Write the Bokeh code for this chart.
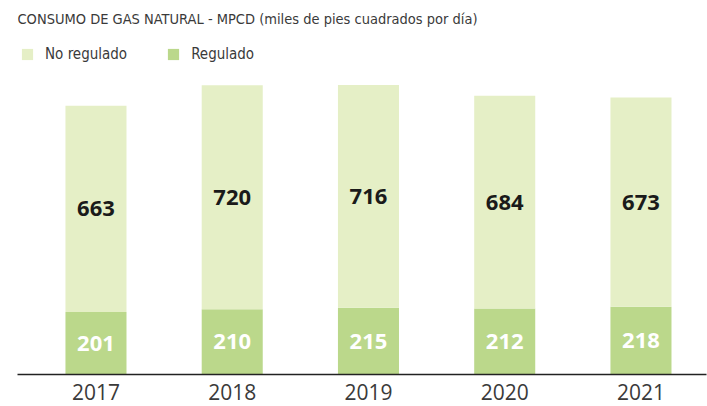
from bokeh.plotting import figure
from bokeh.models import Range1d, ColumnDataSource, Legend, LegendItem, FixedTicker, Label
from bokeh.core.properties import value
from bokeh.embed import file_html
from bokeh.resources import INLINE
import numpy as np

years = ["2017", "2018", "2019", "2020", "2021"]
regulado = [201, 210, 215, 212, 218]
no_regulado = [663, 720, 716, 684, 673]
title_text = "CONSUMO DE GAS NATURAL - MPCD (miles de pies cuadrados por día)"

LIGHT = "#e5efc6"
DARK = "#bbd88b"
TXT = "#3a3a3a"

x = list(range(len(years)))
reg = np.array(regulado)
noreg = np.array(no_regulado)

src = ColumnDataSource(dict(
    x=x, reg=regulado, noreg=no_regulado,
    reg_mid=reg / 2, noreg_mid=reg + noreg / 2,
    reg_txt=[str(v) for v in regulado], noreg_txt=[str(v) for v in no_regulado],
))

p = figure(width=707, height=406, output_backend="svg", toolbar_location=None,
           x_range=Range1d(-0.576, 4.481), y_range=Range1d(0, 1202.6),
           y_axis_location=None, min_border_left=17, min_border_right=1,
           min_border_top=0, min_border_bottom=32)
p.outline_line_color = None
p.xgrid.visible = False
p.ygrid.visible = False
p.background_fill_color = "white"
p.border_fill_color = "white"

rs = p.vbar_stack(["reg", "noreg"], x="x", width=0.448, color=[DARK, LIGHT],
                  line_color=None, source=src)

p.text(x="x", y="noreg_mid", text="noreg_txt", source=src, text_align="center",
       text_baseline="middle", text_font=value("Open Sans"), text_font_style="bold",
       text_font_size="22px", text_color="#1a1a1a")
p.text(x="x", y="reg_mid", text="reg_txt", source=src, text_align="center",
       text_baseline="middle", text_font=value("Open Sans"), text_font_style="bold",
       text_font_size="22px", text_color="white")

ax = p.xaxis[0]
ax.ticker = FixedTicker(ticks=x)
ax.major_label_overrides = {i: y for i, y in zip(x, years)}
ax.axis_line_color = "#222222"
ax.axis_line_width = 1.5
ax.major_tick_line_color = None
ax.minor_tick_line_color = None
ax.major_label_text_font = "Open Sans"
ax.major_label_text_font_size = "21px"
ax.major_label_text_color = TXT
ax.major_label_standoff = 3

legend = Legend(items=[LegendItem(label="No regulado", renderers=[rs[1]]),
                       LegendItem(label="Regulado", renderers=[rs[0]])],
                orientation="horizontal", location=(3, 311),
                glyph_width=14, glyph_height=14, label_standoff=11, spacing=39,
                padding=0, margin=0, border_line_color=None, background_fill_alpha=0,
                label_text_font="DejaVu Sans Condensed", label_text_font_size="15px",
                label_text_color=TXT, label_height=14)
p.add_layout(legend)

p.add_layout(Label(x=0, y=356, x_units="screen", y_units="screen", text=title_text,
                   text_font="DejaVu Sans Condensed", text_font_size="14.5px",
                   text_color=TXT, text_baseline="middle"))

open("out.html", "w").write(file_html(p, INLINE))
